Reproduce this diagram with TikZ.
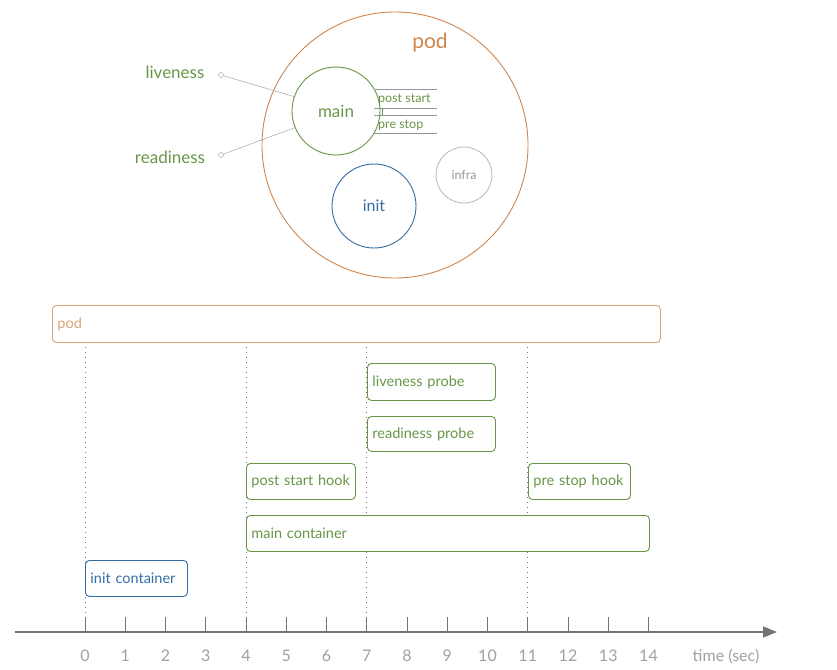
\documentclass[tikz,border=0pt]{standalone}
\usepackage{fontspec}
\setmainfont{Lato}
\usepackage{tikz}
\usepackage{xcolor}
\usetikzlibrary{arrows.meta}

\definecolor{podorange}{RGB}{206,134,78}
\definecolor{podpeach}{RGB}{218,165,120}
\definecolor{maingreen}{RGB}{104,150,72}
\definecolor{initblue}{RGB}{52,108,165}
\definecolor{linegray}{RGB}{150,150,150}
\definecolor{infragray}{RGB}{190,190,190}
\definecolor{axisgray}{RGB}{115,115,115}
\definecolor{numgray}{RGB}{160,160,160}

\tikzset{
    bar/.style={draw=#1, text=#1, fill=white, rounded corners=4pt, anchor=north west,
        inner xsep=5pt, inner ysep=0pt, minimum height=36pt, align=left,
        line width=0.9pt, font=\fontsize{14.5}{16}\selectfont},
    ring/.style={circle, draw, line width=0.9pt, inner sep=0pt},
    dotend/.style={circle, draw=linegray, fill=white, inner sep=0pt, minimum size=5pt},
    hookline/.style={linegray, line width=1pt}
}

\begin{document}
\begin{tikzpicture}[x=1pt, y=-1pt]
    \useasboundingbox (0,0) rectangle (837,669);

    % Draw the pod with its containers
    \node[ring, podorange, minimum size=266pt] (podring) at (395,145) {};
    \node[podorange, font=\fontsize{21}{24}\selectfont] (podname) at (430,43) {pod};
    \node[ring, maingreen, minimum size=88pt, font=\fontsize{17}{19}\selectfont] (main) at (336,111) {main};
    \node[ring, initblue, minimum size=84pt, font=\fontsize{16}{18}\selectfont] (init) at (374,206) {init};
    \node[ring, infragray, minimum size=56pt, text=linegray, font=\fontsize{12.5}{14}\selectfont] (infra) at (464,175) {infra};

    % Draw the hooks
    \draw[hookline] (374,89) -- (437,89);
    \draw[hookline] (374,108) -- (437,108);
    \draw[hookline] (374,115) -- (437,115);
    \draw[hookline] (374,133) -- (437,133);
    \draw[maingreen] (382,108) -- (382,115);
    \node[maingreen, anchor=west, inner sep=0pt, font=\fontsize{12.5}{14}\selectfont] (poststart) at (378,99) {post start};
    \node[maingreen, anchor=west, inner sep=0pt, font=\fontsize{12.5}{14}\selectfont] (prestop) at (378,125) {pre stop};

    % Draw the probes
    \node[maingreen, font=\fontsize{17}{20}\selectfont] (liveness) at (175,72) {liveness};
    \node[maingreen, font=\fontsize{17}{20}\selectfont] (readiness) at (170,157) {readiness};
    \node[dotend] (lvend) at (221,75) {};
    \node[dotend] (rdend) at (221,155) {};
    \draw[linegray] (lvend) -- (main.161);
    \draw[linegray] (rdend) -- (main.202);

    % Draw the time lines
    \foreach \t in {0,4,7,11}
        \draw[axisgray, line width=1pt, dash pattern=on 1.2pt off 3.8pt] (85+40.25*\t,342) -- (85+40.25*\t,632);

    \node[bar=podpeach, text width=598pt, minimum height=37pt] (podbar) at (52,305) {pod};
    \node[bar=maingreen, text width=118pt, minimum height=37pt] (livebar) at (367,363) {liveness probe};
    \node[bar=maingreen, text width=118pt, minimum height=35pt] (readybar) at (367,416) {readiness probe};
    \node[bar=maingreen, text width=99pt] (postbar) at (246,463) {post start hook};
    \node[bar=maingreen, text width=92pt] (prebar) at (528,463) {pre stop hook};
    \node[bar=maingreen, text width=393pt] (mainbar) at (246,515) {main container};
    \node[bar=initblue, text width=92pt] (initbar) at (85,560) {init container};

    % Draw the axis
    \coordinate (axstart) at (15,632);
    \coordinate (axend) at (777,632);
    \draw[axisgray, line width=1.5pt, -{Triangle[length=14pt,width=11pt]}] (axstart) -- (axend);
    \foreach \t in {0,...,14} {
        \draw[axisgray, line width=1pt] (85+40.25*\t,617) -- (85+40.25*\t,632);
        \node[numgray, font=\fontsize{16}{18}\selectfont] (tick\t) at (85+40.25*\t,656) {\t};
    }
    \node[numgray, font=\fontsize{16}{18}\selectfont] (timelabel) at (726,656) {time (sec)};
\end{tikzpicture}
\end{document}
